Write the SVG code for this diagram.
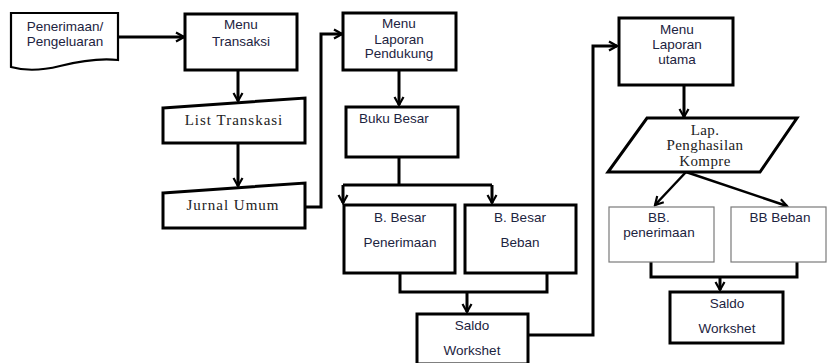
<svg xmlns="http://www.w3.org/2000/svg" width="827" height="363" viewBox="0 0 827 363">
<defs>
<style>
.box{fill:#fff;stroke:#000;stroke-width:3}
.doc{fill:#fff;stroke:#000;stroke-width:2.2}
.thin{fill:#fff;stroke:#7a7a7a;stroke-width:1.2}
.sans{font-family:"Liberation Sans",Arial,sans-serif;font-size:13.5px;fill:#1c2340;text-anchor:middle}
.serif{font-family:"Liberation Serif","Times New Roman",serif;font-size:15px;fill:#222;text-anchor:middle;letter-spacing:1px}
.conn{fill:none;stroke:#000;stroke-width:3}
.diag{fill:none;stroke:#000;stroke-width:2.5}
</style>
<marker id="arr" viewBox="0 0 12 12" refX="10" refY="6" markerWidth="12" markerHeight="12" markerUnits="userSpaceOnUse" orient="auto">
<path d="M2,1.5 L10,6 L2,10.5" fill="none" stroke="#000" stroke-width="2.2"/>
</marker>
</defs>
<rect width="827" height="363" fill="#fff"/>

<g id="connectors">
<path class="conn" d="M118,37 H184" marker-end="url(#arr)"/>
<path class="conn" d="M238,70 V101" marker-end="url(#arr)"/>
<path class="conn" d="M238,143 V186" marker-end="url(#arr)"/>
<path class="conn" d="M305,207 H321 V34 H342" marker-end="url(#arr)"/>
<path class="conn" d="M399,70 V105" marker-end="url(#arr)"/>
<path class="conn" d="M399,157 V185 M343,185 H492"/>
<path class="conn" d="M343,185 V203" marker-end="url(#arr)"/>
<path class="conn" d="M492,185 V203" marker-end="url(#arr)"/>
<path class="conn" d="M400,273 V292 H547 V273"/>
<path class="conn" d="M467,292 V312" marker-end="url(#arr)"/>
<path class="conn" d="M528,335 H593 V46 H617" marker-end="url(#arr)"/>
<path class="conn" d="M684,85 V117" marker-end="url(#arr)"/>
<path class="diag" d="M686,172 L655,205" marker-end="url(#arr)"/>
<path class="diag" d="M686,172 L787,206" marker-end="url(#arr)"/>
<path class="conn" d="M651,262 V277 H797 V262"/>
<path class="conn" d="M720,277 V290" marker-end="url(#arr)"/>
</g>

<g id="penerimaan-pengeluaran">
<path class="doc" d="M11,13 H118 V60 C100,58 80,61 60,66 C40,71 25,71 11,67 Z"/>
<text class="sans" x="65" y="31">Penerimaan/</text>
<text class="sans" x="65" y="46">Pengeluaran</text>
</g>

<g id="menu-transaksi">
<rect class="box" x="185" y="14" width="112" height="56"/>
<text class="sans" x="241" y="29">Menu</text>
<text class="sans" x="241" y="46">Transaksi</text>
</g>

<g id="list-transkasi">
<polygon class="box" points="163,108 305,98 305,143 163,143"/>
<text class="serif" x="234" y="125">List Transkasi</text>
</g>

<g id="jurnal-umum">
<polygon class="box" points="163,193 305,183 305,228 163,228"/>
<text class="serif" x="233" y="210">Jurnal Umum</text>
</g>

<g id="menu-laporan-pendukung">
<rect class="box" x="343" y="13" width="113" height="57"/>
<text class="sans" x="399" y="28">Menu</text>
<text class="sans" x="399" y="44">Laporan</text>
<text class="sans" x="399" y="58">Pendukung</text>
</g>

<g id="buku-besar">
<rect class="box" x="346" y="107" width="112" height="50"/>
<text class="sans" x="359" y="123" style="text-anchor:start">Buku Besar</text>
</g>

<g id="bbesar-penerimaan">
<rect class="box" x="344" y="205" width="111" height="68"/>
<text class="sans" x="400" y="222">B. Besar</text>
<text class="sans" x="400" y="247">Penerimaan</text>
</g>

<g id="bbesar-beban">
<rect class="box" x="465" y="205" width="111" height="68"/>
<text class="sans" x="520" y="222">B. Besar</text>
<text class="sans" x="520" y="247">Beban</text>
</g>

<g id="saldo-workshet-1">
<rect class="box" x="417" y="314" width="111" height="50"/>
<text class="sans" x="472" y="330">Saldo</text>
<text class="sans" x="472" y="355">Workshet</text>
</g>

<g id="menu-laporan-utama">
<rect class="box" x="619" y="18" width="114" height="67"/>
<text class="sans" x="677" y="34">Menu</text>
<text class="sans" x="677" y="49">Laporan</text>
<text class="sans" x="677" y="64">utama</text>
</g>

<g id="lap-penghasilan-kompre">
<polygon class="box" points="647,118 797,118 760,172 608,172"/>
<text class="serif" x="705" y="135" style="letter-spacing:0.4px">Lap.</text>
<text class="serif" x="705" y="150" style="letter-spacing:0.4px">Penghasilan</text>
<text class="serif" x="705" y="166" style="letter-spacing:0.4px">Kompre</text>
</g>

<g id="bb-penerimaan">
<rect class="thin" x="609" y="207" width="105" height="55"/>
<text class="sans" x="659" y="222">BB.</text>
<text class="sans" x="659" y="237">penerimaan</text>
</g>

<g id="bb-beban">
<rect class="thin" x="731" y="207" width="95" height="55"/>
<text class="sans" x="780" y="222">BB Beban</text>
</g>

<g id="saldo-workshet-2">
<rect class="box" x="670" y="292" width="113" height="51"/>
<text class="sans" x="727" y="308">Saldo</text>
<text class="sans" x="727" y="333">Workshet</text>
</g>
</svg>
